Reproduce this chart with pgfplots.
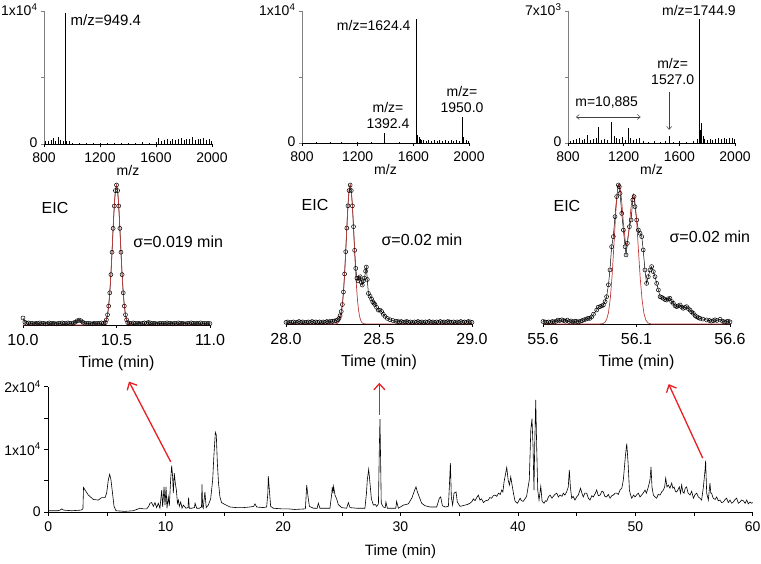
\documentclass[border=0pt]{standalone}
\usepackage{fontspec}
\setmainfont{Liberation Sans}
\usepackage{pgfplots}
\pgfplotsset{compat=1.18}
\usetikzlibrary{arrows.meta}
\definecolor{fitred}{RGB}{192,58,58}
\definecolor{arrred}{RGB}{232,32,36}
\newcommand{\fsA}{\fontsize{14}{16}\selectfont}
\newcommand{\fsB}{\fontsize{16}{18}\selectfont}
\pgfplotsset{
  base/.style={scale only axis, anchor=south west, tick align=outside,
    major tick length=3pt, /pgf/number format/assume math mode=true,
    tick style={black, line width=0.6pt}, axis line style={line width=0.6pt},
    every tick label/.append style={font=\fsA}, label style={font=\fsA}},
  ms/.style={base, axis lines*=left, xmin=800, xmax=2000, ymin=0, ymax=1,
    width=167pt, height=132pt, xtick={800,1200,1600,2000},
    xticklabels={800,1200,1600,2000}, ytick={0,0.5,1},
    xticklabel style={yshift=-2pt}, yticklabel style={yshift=1pt},
    xlabel={m/z}, xlabel style={yshift=4pt}, clip=false,
    y axis line style={gray}, ytick style={gray}},
  eic/.style={base, axis x line*=bottom, axis y line=none, ymin=0, ymax=1,
    width=187pt, height=140pt, clip=false, xlabel={Time (min)},
    xticklabel style={yshift=-3pt}, xlabel style={yshift=-3pt},
    every tick label/.append style={font=\fsB}, label style={font=\fsB}},
  dat/.style={black, line width=0.5pt, mark=o, mark size=2pt,
    mark options={fill=white, line width=0.5pt}},
  fit/.style={fitred, line width=0.7pt, no marks},
}
\begin{document}
\begin{tikzpicture}
\useasboundingbox (0,0) rectangle (761pt,564pt);
% ---------------- top mass spectra ----------------
\begin{axis}[ms, at={(44pt,420pt)}, width=168pt, height=133pt,
  yticklabels={0,,1x10\textsuperscript{4}}]
\addplot[ycomb, black, line width=0.6pt] coordinates {
(810,.02)(830,.025)(850,.03)(870,.045)(880,.02)(900,.05)(920,.03)(935,.02)
(949.4,.985)(960,.025)(980,.02)(1000,.01)(1050,.008)(1100,.01)(1150,.006)
(1200,.008)(1250,.006)(1300,.01)(1350,.007)(1400,.008)(1450,.01)(1500,.012)
(1550,.01)(1600,.015)(1620,.045)(1640,.02)(1660,.03)(1680,.035)(1700,.025)
(1720,.04)(1740,.03)(1760,.035)(1780,.045)(1800,.03)(1820,.04)(1840,.035)
(1860,.05)(1880,.03)(1900,.04)(1920,.035)(1940,.045)(1960,.03)(1980,.035)(1995,.02)};
\node[font=\fontsize{15}{17}\selectfont, anchor=west] at (axis cs:965,0.93) {m/z=949.4};
\end{axis}

\begin{axis}[ms, at={(302pt,421pt)}, yticklabels={0,,1x10\textsuperscript{4}}]
\addplot[ycomb, black, line width=0.6pt] coordinates {
(900,.008)(1000,.01)(1080,.008)(1200,.006)(1300,.006)(1392.4,.075)(1500,.008)
(1624.4,.94)(1632,.06)(1640,.045)(1650,.03)(1660,.025)(1675,.02)(1690,.015)
(1710,.02)(1730,.015)(1750,.02)(1770,.015)(1790,.02)(1810,.015)(1830,.02)
(1850,.015)(1870,.02)(1890,.015)(1910,.02)(1930,.018)(1950,.20)(1962,.045)(1980,.02)(1995,.015)};
\node[font=\fsA, anchor=east] at (axis cs:1605,0.89) {m/z=1624.4};
\node[font=\fsA, align=center] at (axis cs:1418,0.21) {m/z=\\1392.4};
\node[font=\fsA, align=center] at (axis cs:1950,0.33) {m/z=\\1950.0};
\end{axis}

\begin{axis}[ms, at={(568pt,421pt)}, yticklabels={0,,7x10\textsuperscript{3}}]
\addplot[ycomb, black, line width=0.6pt] coordinates {
(820,.015)(840,.02)(860,.03)(880,.035)(900,.025)(920,.03)(940,.06)(960,.02)
(980,.03)(1000,.04)(1020,.12)(1040,.02)(1060,.03)(1080,.025)(1110,.16)(1130,.05)
(1150,.04)(1170,.03)(1190,.045)(1210,.02)(1230,.11)(1250,.04)(1270,.025)(1290,.03)
(1310,.035)(1340,.015)(1380,.01)(1420,.015)(1460,.01)(1500,.012)(1527,.05)
(1560,.01)(1600,.012)(1650,.01)(1700,.015)(1730,.03)(1744.9,.94)(1752,.10)
(1760,.15)(1770,.05)(1780,.03)(1800,.02)(1820,.03)(1840,.025)(1860,.03)(1880,.04)
(1900,.03)(1920,.035)(1940,.03)(1960,.04)(1980,.035)(1995,.03)};
\node[font=\fsA] at (axis cs:1741,1.0) {m/z=1744.9};
\node[font=\fsA, align=center] at (axis cs:1552,0.545) {m/z=\\1527.0};
\node[font=\fsA] at (axis cs:1078,0.31) {m=10,885};
\draw[{Straight Barb[length=3pt,width=5pt]}-{Straight Barb[length=3pt,width=5pt]}, black!75, line width=0.5pt]
  (axis cs:857,0.197) -- (axis cs:1322,0.197);
\draw[-{Straight Barb[length=3pt,width=5pt]}, black!75, line width=0.5pt]
  (axis cs:1527,0.386) -- (axis cs:1527,0.10);
\end{axis}

% ---------------- middle EIC panels ----------------
\begin{axis}[eic, at={(23pt,239pt)}, xmin=10, xmax=11, xtick={10,10.5,11},
  xticklabels={10.0,10.5,11.0}]
\addplot[dat] coordinates {
(10.00,.05)(10.01,.02)(10.02,.012)(10.03,.015)(10.04,.01)(10.05,.012)(10.06,.008)
(10.07,.012)(10.08,.01)(10.09,.015)(10.10,.01)(10.11,.012)(10.12,.008)(10.13,.01)
(10.14,.015)(10.15,.01)(10.16,.012)(10.17,.01)(10.18,.008)(10.19,.012)(10.20,.01)
(10.21,.015)(10.22,.012)(10.23,.01)(10.24,.015)(10.25,.012)(10.26,.01)(10.27,.015)
(10.28,.02)(10.29,.03)(10.30,.035)(10.31,.03)(10.32,.02)(10.33,.012)(10.34,.01)
(10.35,.012)(10.36,.01)(10.37,.008)(10.38,.012)(10.39,.01)(10.40,.012)(10.41,.01)
(10.42,.015)(10.43,.012)
(10.440,.017)(10.446,.037)(10.452,.073)(10.458,.135)(10.464,.23)(10.470,.36)
(10.476,.52)(10.482,.69)(10.488,.85)(10.494,.96)(10.500,1.0)(10.506,.96)(10.512,.85)
(10.518,.69)(10.524,.52)(10.530,.36)(10.536,.23)(10.542,.135)(10.548,.073)
(10.554,.037)(10.560,.017)
(10.57,.012)(10.58,.01)(10.59,.015)(10.60,.012)(10.61,.01)(10.62,.012)(10.63,.008)
(10.64,.012)(10.65,.015)(10.66,.012)(10.67,.018)(10.68,.015)(10.69,.01)(10.70,.012)
(10.71,.01)(10.72,.008)(10.73,.012)(10.74,.01)(10.75,.012)(10.76,.01)(10.77,.015)
(10.78,.01)(10.79,.012)(10.80,.008)(10.81,.012)(10.82,.01)(10.83,.015)(10.84,.01)
(10.85,.012)(10.86,.01)(10.87,.008)(10.88,.012)(10.89,.01)(10.90,.015)(10.91,.012)
(10.92,.01)(10.93,.012)(10.94,.01)(10.95,.015)(10.96,.01)(10.97,.012)(10.98,.01)
(10.99,.012)(11.00,.01)};
\addplot[fit] coordinates {
(10.00,0)(10.42,0)(10.43,.004)(10.435,.008)(10.44,.017)(10.445,.032)(10.45,.059)
(10.455,.101)(10.46,.163)(10.465,.249)(10.47,.360)(10.475,.492)(10.48,.635)
(10.485,.775)(10.49,.893)(10.495,.972)(10.5,1)(10.505,.972)(10.51,.893)(10.515,.775)
(10.52,.635)(10.525,.492)(10.53,.360)(10.535,.249)(10.54,.163)(10.545,.101)
(10.55,.059)(10.555,.032)(10.56,.017)(10.565,.008)(10.57,.004)(10.58,.001)(11.0,0)};
\node[font=\fsB] at (axis cs:10.171,0.836) {EIC};
\node[font=\fsB, anchor=west] at (axis cs:10.572,0.593) {σ=0.019 min};
\end{axis}

\begin{axis}[eic, at={(286pt,240pt)}, width=186pt, height=139pt, xmin=28, xmax=29,
  xtick={28,28.5,29}, xticklabels={28.0,28.5,29.0}]
\addplot[dat] coordinates {
(28.00,.012)(28.01,.015)(28.02,.01)(28.03,.012)(28.04,.015)(28.05,.01)(28.06,.012)
(28.07,.018)(28.08,.012)(28.09,.015)(28.10,.01)(28.11,.012)(28.12,.015)(28.13,.012)
(28.14,.018)(28.15,.012)(28.16,.015)(28.17,.012)(28.18,.015)(28.19,.01)(28.20,.015)
(28.21,.012)(28.22,.018)(28.23,.015)(28.24,.02)(28.25,.018)(28.26,.022)(28.27,.025)
(28.278,.03)
(28.285,.04)(28.291,.06)(28.297,.09)(28.303,.14)(28.309,.23)(28.315,.36)(28.321,.52)
(28.327,.69)(28.333,.85)(28.339,.96)(28.345,1.0)(28.351,.96)(28.357,.85)(28.363,.70)
(28.369,.53)(28.375,.40)(28.381,.33)(28.387,.31)(28.393,.33)(28.399,.34)(28.405,.30)
(28.41,.28)(28.416,.31)(28.422,.33)(28.428,.38)(28.432,.41)(28.437,.32)(28.443,.22)
(28.452,.20)(28.46,.18)(28.466,.16)(28.472,.15)(28.478,.14)(28.487,.12)(28.496,.10)
(28.505,.10)(28.514,.09)(28.523,.07)(28.532,.055)(28.545,.04)(28.559,.031)
(28.575,.025)(28.59,.02)
(28.60,.018)(28.61,.015)(28.62,.018)(28.63,.012)(28.64,.015)(28.65,.018)(28.66,.012)
(28.67,.015)(28.68,.01)(28.69,.015)(28.70,.012)(28.71,.018)(28.72,.012)(28.73,.015)
(28.74,.01)(28.75,.015)(28.76,.012)(28.77,.018)(28.78,.012)(28.79,.015)(28.80,.01)
(28.81,.015)(28.82,.012)(28.83,.018)(28.84,.012)(28.85,.015)(28.86,.012)(28.87,.018)
(28.88,.015)(28.89,.012)(28.90,.015)(28.91,.01)(28.92,.015)(28.93,.012)(28.94,.018)
(28.95,.012)(28.96,.015)(28.97,.012)(28.98,.018)(28.99,.015)(29.00,.012)};
\addplot[fit] coordinates {
(28.0,0)(28.265,0)(28.275,.004)(28.28,.008)(28.285,.017)(28.29,.032)(28.295,.059)
(28.3,.101)(28.305,.163)(28.31,.249)(28.315,.360)(28.32,.492)(28.325,.635)
(28.33,.775)(28.335,.893)(28.34,.972)(28.345,1)(28.35,.972)(28.355,.893)(28.36,.775)
(28.365,.635)(28.37,.492)(28.375,.360)(28.38,.249)(28.385,.163)(28.39,.101)
(28.395,.059)(28.4,.032)(28.405,.017)(28.41,.008)(28.415,.004)(28.425,.001)(29.0,0)};
\node[font=\fsB] at (axis cs:28.156,0.856) {EIC};
\node[font=\fsB, anchor=west] at (axis cs:28.495,0.604) {σ=0.02 min};
\end{axis}

\begin{axis}[eic, at={(543pt,240pt)}, xmin=55.6, xmax=56.6,
  xtick={55.6,56.1,56.6}, xticklabels={55.6,56.1,56.6}]
\addplot[dat] coordinates {
(55.60,.018)(55.61,.015)(55.62,.012)(55.63,.015)(55.64,.012)(55.65,.018)(55.66,.015)
(55.67,.02)(55.68,.028)(55.69,.025)(55.70,.03)(55.71,.025)(55.72,.02)(55.73,.028)
(55.74,.018)(55.75,.022)(55.76,.015)(55.77,.02)(55.78,.018)(55.79,.015)(55.80,.02)
(55.81,.025)(55.82,.03)(55.83,.035)(55.84,.04)(55.85,.04)(55.86,.05)(55.87,.07)
(55.887,.10)(55.895,.12)(55.905,.124)(55.915,.13)(55.923,.136)(55.932,.16)
(55.940,.195)(55.95,.28)(55.958,.386)(55.967,.552)(55.976,.624)(55.985,.767)
(55.994,.910)(56.003,.993)(56.008,.98)(56.012,.933)(56.021,.790)(56.030,.671)
(56.039,.552)(56.044,.493)(56.051,.576)(56.062,.695)(56.071,.743)(56.080,.886)
(56.087,.910)(56.092,.838)(56.101,.743)(56.110,.671)(56.119,.648)(56.128,.624)
(56.136,.529)(56.145,.386)(56.154,.290)(56.163,.338)(56.172,.386)(56.181,.410)
(56.190,.374)(56.199,.338)(56.208,.290)(56.217,.243)(56.226,.195)(56.235,.19)
(56.243,.183)(56.252,.175)(56.261,.171)(56.270,.18)(56.279,.183)(56.288,.16)
(56.297,.148)(56.306,.13)(56.315,.124)(56.324,.13)(56.333,.136)(56.342,.12)
(56.350,.112)(56.359,.118)(56.368,.124)(56.377,.11)(56.386,.10)(56.395,.085)
(56.404,.076)(56.413,.06)(56.422,.052)(56.431,.045)(56.440,.040)(56.455,.035)
(56.475,.029)(56.49,.025)(56.50,.02)(56.511,.024)(56.52,.03)(56.53,.025)
(56.547,.033)(56.56,.02)(56.57,.015)(56.582,.017)(56.59,.02)(56.60,.015)};
\addplot[fit] coordinates {
(55.6,0)(55.90,0)(55.92,.003)(55.93,.01)(55.94,.031)(55.95,.081)(55.96,.184)
(55.97,.355)(55.98,.582)(55.99,.815)(56.00,.974)(56.006,1.0)(56.01,.999)(56.02,.890)
(56.03,.720)(56.04,.593)(56.045,.568)(56.05,.578)(56.06,.677)(56.07,.825)(56.08,.920)
(56.084,.928)(56.09,.897)(56.10,.751)(56.11,.535)(56.12,.326)(56.13,.170)(56.14,.075)
(56.15,.028)(56.16,.009)(56.17,.003)(56.18,0)(56.6,0)};
\node[font=\fsB] at (axis cs:55.728,0.843) {EIC};
\node[font=\fsB, anchor=west] at (axis cs:56.258,0.621) {σ=0.02 min};
\end{axis}

% ---------------- bottom chromatogram ----------------
\begin{axis}[base, axis lines*=left, at={(48.3pt,52pt)}, width=704.4pt, height=125.4pt,
  xmin=0, xmax=60, ymin=0, ymax=2, clip=false, major tick length=4pt,
  xtick={0,5,...,60}, xticklabels={0,,10,,20,,30,,40,,50,,60},
  ytick={0,0.5,1,1.5,2},
  yticklabels={0,,1x10\textsuperscript{4},,2x10\textsuperscript{4}},
  xticklabel style={yshift=-2pt},
  xlabel={Time (min)}, xlabel style={yshift=-6pt}, label style={font=\fontsize{15}{17}\selectfont}]
\addplot[black, line width=0.6pt, no marks] coordinates {
(0,.02)(0.8,.02)(1.0,.03)(1.15,.05)(1.3,.03)(2.0,.02)(2.8,.03)(2.95,.05)(3.0,.39)
(3.1,.36)(3.41,.27)(3.84,.20)(4.26,.19)(4.55,.23)(4.83,.23)(4.97,.30)(5.11,.51)
(5.23,.60)(5.34,.51)(5.5,.25)(5.6,.09)(5.77,.02)(6.5,.01)(7.24,.02)(7.53,.04)
(7.81,.06)(8.1,.05)(8.38,.05)(8.55,.09)(8.66,.14)(8.8,.15)(8.95,.09)(9.09,.15)
(9.23,.07)(9.37,.14)(9.51,.06)(9.66,.35)(9.74,.08)(9.86,.40)(9.94,.11)(10.03,.40)
(10.11,.06)(10.22,.24)(10.31,.10)(10.42,.51)(10.51,.74)(10.59,.56)(10.65,.30)
(10.73,.62)(10.82,.46)(10.91,.35)(11.0,.14)(11.08,.19)(11.16,.09)(11.28,.16)
(11.39,.06)(11.5,.11)(11.73,.06)(11.9,.07)(11.95,.23)(12.01,.06)(12.21,.06)
(12.45,.07)(12.5,.14)(12.64,.06)(12.87,.06)(13.05,.08)(13.09,.44)(13.15,.08)
(13.2,.06)(13.34,.32)(13.45,.07)(13.49,.08)(13.63,.11)(13.83,.21)(14.0,.51)
(14.1,.88)(14.23,1.27)(14.31,1.23)(14.4,.78)(14.5,.46)(14.62,.24)(14.76,.15)
(15.04,.12)(15.47,.08)(16.04,.07)(16.61,.07)(17.18,.08)(17.5,.09)(17.6,.13)
(17.75,.08)(18.3,.07)(18.6,.08)(18.7,.30)(18.74,.57)(18.83,.35)(18.94,.09)
(19.17,.06)(19.88,.05)(20.45,.05)(21.0,.04)(21.9,.05)(22.01,.43)(22.12,.25)
(22.24,.09)(22.58,.06)(22.9,.06)(23.0,.14)(23.14,.06)(23.99,.06)(24.15,.30)
(24.19,.40)(24.25,.30)(24.3,.41)(24.42,.27)(24.56,.21)(24.7,.12)(24.98,.07)
(25.41,.06)(25.56,.15)(25.7,.07)(26.27,.06)(26.97,.06)(27.1,.30)(27.17,.51)
(27.29,.68)(27.4,.46)(27.52,.21)(27.69,.11)(27.85,.12)(27.97,.09)(28.12,.13)
(28.2,1.04)(28.25,1.48)(28.31,.78)(28.36,.14)(28.53,.08)(28.7,.07)(28.76,.16)
(28.88,.06)(29.39,.06)(29.6,.06)(29.67,.17)(29.82,.06)(30.25,.11)(30.67,.13)
(30.96,.22)(31.15,.32)(31.32,.40)(31.44,.32)(31.6,.24)(31.8,.14)(32.09,.10)
(32.51,.08)(33.08,.08)(33.31,.22)(33.42,.24)(33.57,.10)(33.8,.08)(34.08,.09)
(34.16,.40)(34.25,.78)(34.33,.24)(34.44,.11)(34.56,.30)(34.73,.32)(34.84,.16)
(35.07,.09)(35.3,.10)(35.5,.11)(35.7,.12)(35.92,.14)(36.1,.17)(36.21,.21)
(36.35,.18)(36.49,.23)(36.63,.27)(36.77,.19)(36.9,.21)(37.06,.15)(37.25,.18)
(37.48,.19)(37.6,.23)(37.77,.22)(37.9,.26)(38.05,.27)(38.2,.25)(38.34,.30)
(38.5,.28)(38.62,.35)(38.72,.32)(38.82,.48)(39.05,.71)(39.17,.51)(39.28,.43)
(39.39,.56)(39.53,.40)(39.62,.30)(39.76,.17)(39.96,.14)(40.19,.22)(40.3,.18)
(40.46,.17)(40.6,.21)(40.74,.25)(40.97,.51)(41.1,1.31)(41.2,1.49)(41.29,1.04)
(41.37,.35)(41.43,1.04)(41.52,1.79)(41.6,1.04)(41.69,.35)(41.8,.19)(41.95,.41)
(42.06,.17)(42.23,.14)(42.35,.18)(42.45,.17)(42.6,.24)(42.74,.27)(42.9,.22)
(43.02,.25)(43.15,.28)(43.31,.30)(43.45,.24)(43.59,.27)(43.75,.25)(43.87,.30)
(44.0,.27)(44.15,.32)(44.29,.40)(44.38,.67)(44.47,.40)(44.58,.22)(44.7,.25)
(44.86,.19)(45.0,.24)(45.14,.27)(45.34,.38)(45.45,.30)(45.57,.24)(45.7,.30)
(45.86,.30)(46.0,.22)(46.14,.19)(46.3,.26)(46.43,.24)(46.6,.30)(46.71,.35)
(46.85,.26)(47.0,.27)(47.15,.33)(47.28,.32)(47.4,.25)(47.56,.24)(47.7,.28)
(47.85,.22)(48.0,.26)(48.13,.27)(48.28,.30)(48.41,.30)(48.55,.28)(48.7,.35)
(48.85,.38)(48.98,.51)(49.15,.88)(49.27,1.09)(49.38,.80)(49.5,.35)(49.6,.27)
(49.7,.22)(49.85,.27)(49.98,.24)(50.1,.27)(50.26,.30)(50.4,.24)(50.54,.27)
(50.7,.31)(50.83,.35)(50.95,.30)(51.11,.40)(51.25,.51)(51.34,.72)(51.42,.40)
(51.54,.27)(51.68,.24)(51.82,.22)(51.95,.28)(52.11,.27)(52.25,.32)(52.39,.35)
(52.5,.40)(52.59,.54)(52.7,.40)(52.81,.43)(52.95,.38)(53.1,.46)(53.2,.38)
(53.3,.40)(53.42,.33)(53.53,.32)(53.65,.36)(53.75,.40)(53.85,.30)(53.95,.43)
(54.05,.32)(54.15,.30)(54.25,.38)(54.37,.40)(54.5,.30)(54.66,.27)(54.8,.33)
(54.95,.22)(55.1,.28)(55.23,.30)(55.37,.24)(55.51,.22)(55.65,.19)(55.8,.40)
(55.94,.67)(55.99,.82)(56.08,.30)(56.15,.25)(56.22,.19)(56.3,.35)(56.36,.46)
(56.43,.30)(56.5,.30)(56.58,.25)(56.64,.22)(56.8,.20)(56.93,.24)(57.07,.18)
(57.21,.19)(57.35,.15)(57.5,.16)(57.65,.20)(57.78,.22)(57.92,.15)(58.07,.19)
(58.2,.14)(58.35,.16)(58.5,.20)(58.63,.22)(58.78,.14)(58.92,.16)(59.05,.19)
(59.2,.18)(59.35,.14)(59.49,.19)(59.63,.13)(59.77,.16)(59.9,.14)(60,.15)};
\draw[arrred, line width=1.3pt, -{Straight Barb[length=6pt,width=11pt]}]
  (axis cs:10.43,0.80) -- (axis cs:6.87,2.08);
\draw[arrred, line width=1.3pt, -{Straight Barb[length=6pt,width=11pt]}]
  (axis cs:28.2,1.55) -- (axis cs:28.2,2.06);
\draw[arrred, line width=1.3pt, -{Straight Barb[length=6pt,width=11pt]}]
  (axis cs:55.74,0.86) -- (axis cs:52.84,2.04);
\end{axis}
\end{tikzpicture}
\end{document}
